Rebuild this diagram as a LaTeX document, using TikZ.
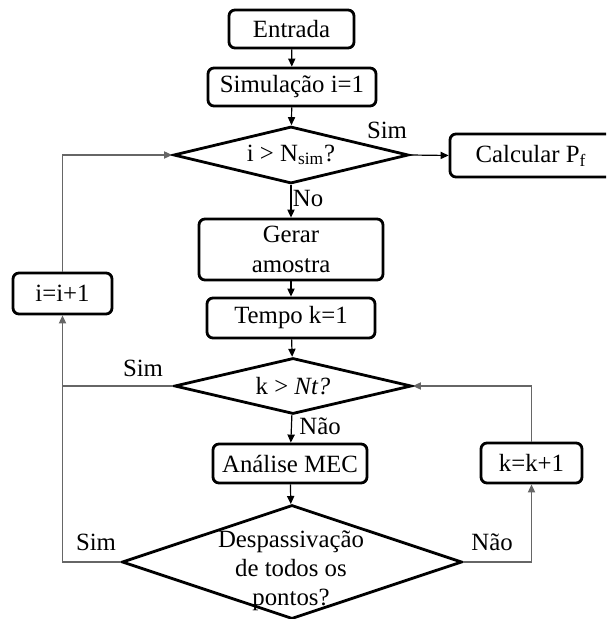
\documentclass[tikz,border=0pt]{standalone}
\usepackage{fontspec}
\setmainfont{Liberation Serif}
\usetikzlibrary{arrows.meta,shapes.geometric}

\tikzset{
  txt/.style={inner sep=0pt, align=center, font=\fontsize{12.4}{14.6}\selectfont},
  block/.style={txt, draw, line width=1.4pt, rounded corners=3pt},
  decision/.style={txt, draw, line width=1.4pt, diamond, aspect=4},
  flow/.style={-{Triangle[length=4pt,width=3.6pt]}, line width=0.6pt},
  loop/.style={flow, gray!80!black},
  plain/.style={line width=0.6pt, gray!80!black}
}

\begin{document}
\begin{tikzpicture}[x=0.5pt, y=-0.5pt]
    \clip (0,0) rectangle (606,619);

    % main column
    \node[block, minimum width=62.5pt, minimum height=19pt] (entrada) at (291.5,29) {Entrada};
    \node[block, minimum width=84pt, minimum height=19pt] (simul) at (292,87) {Simulação i=1};
    \node[decision, minimum width=117.5pt, minimum height=28.5pt] (dec1) at (291,155) {i > N\textsubscript{sim}?};
    \node[block, minimum width=81pt, minimum height=21.5pt] (calc) at (531,155.5) {Calcular P\textsubscript{f}};
    \node[block, minimum width=92pt, minimum height=30.5pt] (gerar) at (291,249.5) {Gerar\\amostra};
    \node[block, minimum width=84pt, minimum height=20pt] (tempo) at (291,318) {Tempo k=1};
    \node[decision, minimum width=118.5pt, minimum height=28pt] (dec2) at (293,386) {k > \textit{Nt?}};
    \node[block, minimum width=77pt, minimum height=19.5pt] (mec) at (290,463.5) {Análise MEC};
    \node[decision, minimum width=170pt, minimum height=57pt] (dec3) at (292,562) {};
    \node[txt] (dec3txt) at (291,571) {Despassivação\\de todos os\\pontos?};

    % counters
    \node[block, minimum width=49.5pt, minimum height=20.5pt] (incI) at (62.5,293.5) {i=i+1};
    \node[block, minimum width=50.5pt, minimum height=20pt] (incK) at (531.5,463) {k=k+1};

    % straight flow
    \draw[flow] (entrada) -- (simul);
    \draw[flow] (simul) -- (dec1);
    \draw[flow] (dec1.east) -- (calc.west);
    \draw[flow] (dec1) -- (gerar);
    \draw[flow] (gerar) -- (tempo);
    \draw[flow] (tempo) -- (dec2);
    \draw[flow] (dec2) -- (mec);
    \draw[flow] (mec) -- (dec3);

    % loops
    \draw[loop] (dec3.west) -| (incI.south);
    \draw[plain] (dec2.west) -- (incI.south |- dec2.west);
    \draw[loop] (incI.north) |- (dec1.west);
    \draw[loop] (dec3.east) -| (incK.south);
    \draw[loop] (incK.north) |- (dec2.east);

    % labels
    \node[txt] (l1) at (387,130) {Sim};
    \node[txt] (l2) at (308,199) {No};
    \node[txt] (l3) at (143,368) {Sim};
    \node[txt] (l4) at (320,426) {Não};
    \node[txt] (l5) at (96,542) {Sim};
    \node[txt] (l6) at (492,542) {Não};
\end{tikzpicture}
\end{document}
